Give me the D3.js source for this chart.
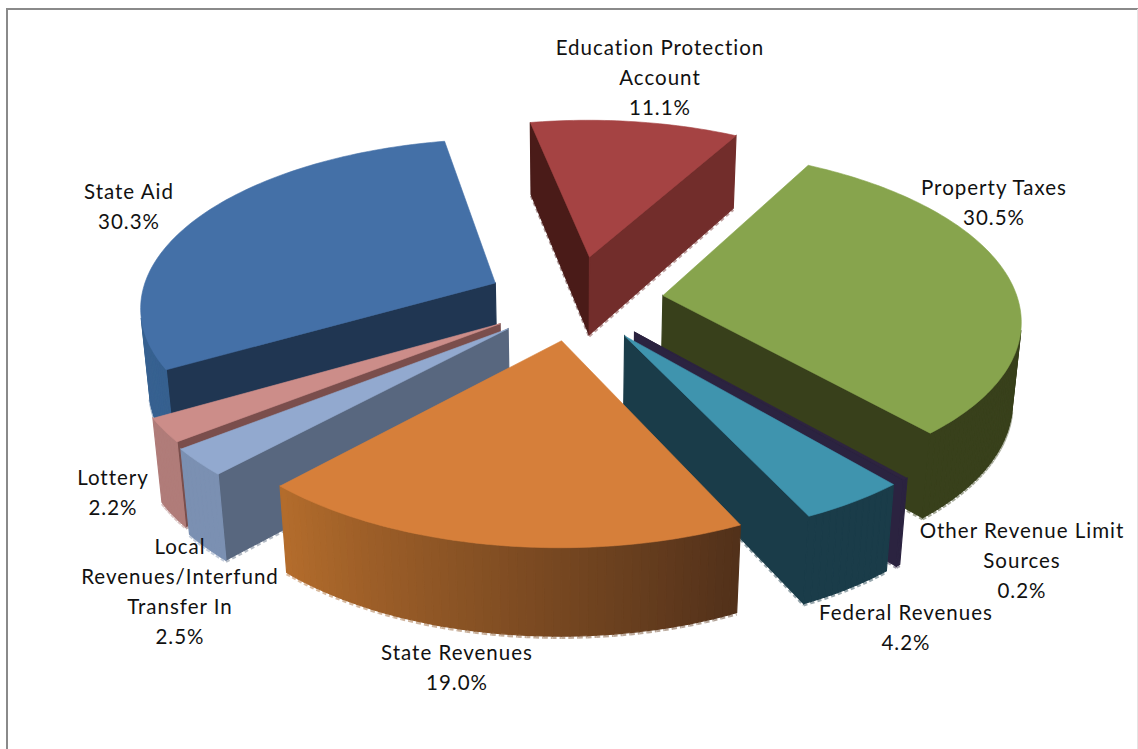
<!DOCTYPE html>
<html>
<head>
<meta charset="utf-8">
<title>Revenue sources</title>
<script src="https://cdnjs.cloudflare.com/ajax/libs/d3/7.8.5/d3.min.js"></script>
<style>
  html, body { margin: 0; padding: 0; background: #fff; }
  svg { display: block; }
  text { font-family: Lato, "Open Sans", sans-serif; font-size: 20.5px; fill: #111; letter-spacing: 1px; }
</style>
</head>
<body>
<svg id="chart" width="1138" height="749"></svg>
<script>
// Revenue shares, clockwise from the top of the pie
const categories = [
  "Education Protection Account",
  "Property Taxes",
  "Other Revenue Limit Sources",
  "Federal Revenues",
  "State Revenues",
  "Local Revenues/Interfund Transfer In",
  "Lottery",
  "State Aid"
];
const shares = [11.1, 30.5, 0.2, 4.2, 19.0, 2.5, 2.2, 30.3];

// Category names broken over the lines used in the labels
const labelLines = [
  ["Education Protection", "Account"],
  ["Property Taxes"],
  ["Other Revenue Limit", "Sources"],
  ["Federal Revenues"],
  ["State Revenues"],
  ["Local", "Revenues/Interfund", "Transfer In"],
  ["Lottery"],
  ["State Aid"]
];

// Centre of the first label line for each slice
const labelAnchors = [
  [660, 48], [994, 188], [1022, 531], [906, 613],
  [457, 653], [180, 547], [113, 478], [129, 192]
];

// Outward pull of each slice, and its radius relative to the pie
const explode = [0.27, 0.25, 0.25, 0.25, 0.24, 0.25, 0.25, 0.25];
const radiusScale = [0.985, 1, 1, 1, 1.012, 1.03, 1.02, 1];

// Slice faces: top surface, start cut, end cut, rim at start angle, rim at end angle
const topColors   = ["#A54343", "#87A44D", "#2E2440", "#3F94AE", "#D67F3A", "#92A9CF", "#CC8D89", "#4470A7"];
const startColors = ["#4A1B18", "#38401B", "#2B2340", "#1A3C49", "#52311A", "#58677F", "#7A4E4C", "#203652"];
const endColors   = ["#722D2B", "#38401B", "#2B2340", "#1A3C49", "#B36C2C", "#7B90B2", "#B07C79", "#3B6698"];
const rimFrom     = ["#722D2B", "#38401B", "#2B2340", "#1A3C49", "#52311A", "#7B90B2", "#B07C79", "#36608F"];
const rimTo       = ["#722D2B", "#38401B", "#2B2340", "#1A3C49", "#B36C2C", "#7B90B2", "#B07C79", "#3D6A9E"];

// Painter's order, far slices first
const paintOrder = [0, 7, 1, 6, 2, 5, 3, 4];

const svg = d3.select("#chart");

// Chart frame: left and top rules, faint rule on the right
svg.append("path").attr("d", "M7 749V9H1138").attr("fill", "none").attr("stroke", "#8a8a8a").attr("stroke-width", 2);
svg.append("path").attr("d", "M1137.5 9V749").attr("fill", "none").attr("stroke", "#e4e4e4");

// Tilted perspective view of the pie plane; z = 0 is the top surface, z = 1 the base
const view = { cx: 575, cy: 300, sx: 355, sy: 166.6, persp: 0.128, sink: 0.02, height: 81 };
function project(X, Y, z) {
  const d = 1 - view.persp * Y + view.sink * z;
  return [view.cx + view.sx * X / d, view.cy + (view.sy * Y + view.height * z) / d];
}

const pie = d3.pie().sort(null).value(d => d)
  .startAngle(-11 * Math.PI / 180)
  .endAngle((360 - 11) * Math.PI / 180);
const arcs = pie(shares);

const closed = d3.line().curve(d3.curveLinearClosed);
const open = d3.line();

paintOrder.forEach(i => {
  const a = arcs[i];
  const mid = (a.startAngle + a.endAngle) / 2;
  const ox = explode[i] * Math.sin(mid), oy = -explode[i] * Math.cos(mid);
  const r = radiusScale[i];
  const rimAt = (t, z) => project(ox + r * Math.sin(t), oy - r * Math.cos(t), z);
  const apex = z => project(ox, oy, z);

  const steps = Math.max(2, Math.ceil((a.endAngle - a.startAngle) / (1.2 * Math.PI / 180)));
  const angles = d3.range(steps + 1).map(k => a.startAngle + (a.endAngle - a.startAngle) * k / steps);
  const rimColor = d3.interpolateRgb(rimFrom[i], rimTo[i]);

  const faces = [
    { p: apex, q: z => rimAt(a.startAngle, z), fill: startColors[i] },
    { p: z => rimAt(a.endAngle, z), q: apex, fill: endColors[i] }
  ];
  d3.range(steps).forEach(k => faces.push({
    p: z => rimAt(angles[k], z),
    q: z => rimAt(angles[k + 1], z),
    fill: rimColor(k / (steps - 1 || 1))
  }));

  // Keep only faces turned towards the viewer
  const visible = faces
    .map(f => ({ ...f, poly: [f.p(0), f.q(0), f.q(1), f.p(1)] }))
    .filter(f => d3.polygonArea(f.poly) > 0);

  const g = svg.append("g").attr("class", "slice").datum(categories[i]);

  // Pale broken fringe along the base of the slab
  g.selectAll("path.fringe").data(visible).join("path")
    .attr("class", "fringe")
    .attr("d", f => open([f.poly[2], f.poly[3]]))
    .attr("fill", "none")
    .attr("stroke", f => d3.interpolateRgb(f.fill, "#fff")(0.55))
    .attr("stroke-width", 2.5)
    .attr("stroke-dasharray", "4 3")
    .attr("transform", "translate(0,1.6)");

  g.selectAll("path.face").data(visible).join("path")
    .attr("class", "face")
    .attr("d", f => closed(f.poly))
    .attr("fill", f => f.fill)
    .attr("stroke", f => f.fill)
    .attr("stroke-width", 1.2);

  const outline = [apex(0), ...angles.map(t => rimAt(t, 0))];
  g.append("path")
    .attr("class", "top")
    .attr("d", closed(outline))
    .attr("fill", topColors[i])
    .attr("stroke", topColors[i])
    .attr("stroke-width", 0.6);
});

// Two-part labels: category lines, then the share
const pct = d3.format(".1%");
const lineStep = 30;
labelLines.forEach((lines, i) => {
  const [x, y] = labelAnchors[i];
  const all = [...lines, pct(shares[i] / 100)];
  svg.append("text")
    .attr("text-anchor", "middle")
    .selectAll("tspan").data(all).join("tspan")
    .attr("x", x)
    .attr("y", (d, k) => y + k * lineStep)
    .attr("dy", "0.35em")
    .text(d => d);
});
</script>
</body>
</html>
